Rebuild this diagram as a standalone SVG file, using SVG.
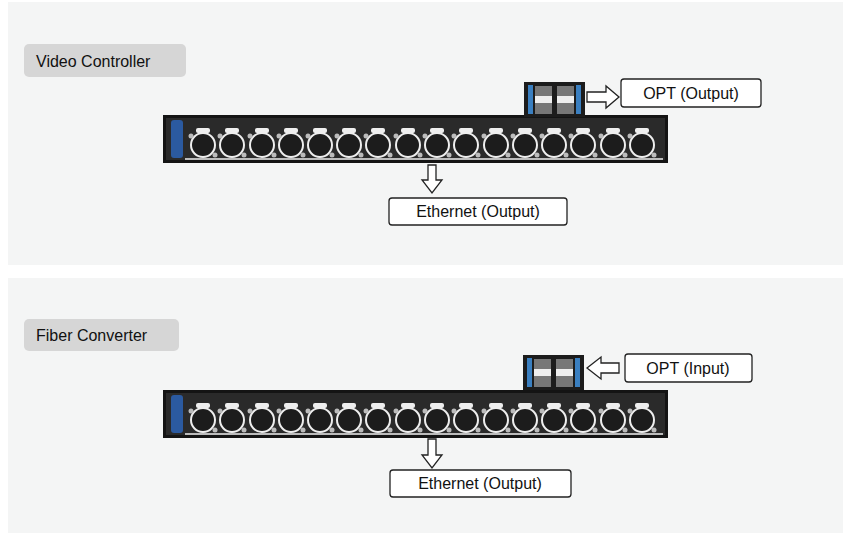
<svg xmlns="http://www.w3.org/2000/svg" xmlns:xlink="http://www.w3.org/1999/xlink" width="851" height="540" viewBox="0 0 851 540">
<style>
text{font-family:"Liberation Sans",Arial,sans-serif;fill:#111}
.panel{fill:#f4f5f5}
.tag{fill:#d6d6d6}
.lbl{fill:#fff;stroke:#222;stroke-width:1.3}
.arr{fill:#fff;stroke:#222;stroke-width:1.3}
.port{fill:#1c1c1c;stroke:#eee;stroke-width:2}
</style>
<defs>
<g id="port">
<rect x="-7" y="-17" width="14" height="5" rx="2" fill="#eee"/>
<circle r="12" class="port"/>
<circle cx="-12" cy="-9" r="2.5" fill="#bbb"/>
<circle cx="12" cy="10" r="2.5" fill="#bbb"/>
</g>
<g id="dev">
<rect x="0" y="0" width="505" height="48" fill="#141414"/>
<rect x="3" y="3" width="499" height="42" fill="#2a2a2a"/>
<rect x="8" y="5" width="12" height="38" rx="3" fill="#2b5aa0"/>
<line x1="22" y1="44" x2="500" y2="44" stroke="#eee" stroke-width="1.5"/>
<use xlink:href="#port" x="40" y="30"/><use xlink:href="#port" x="69" y="30"/><use xlink:href="#port" x="99" y="30"/><use xlink:href="#port" x="128" y="30"/>
<use xlink:href="#port" x="157" y="30"/><use xlink:href="#port" x="186" y="30"/><use xlink:href="#port" x="215" y="30"/><use xlink:href="#port" x="245" y="30"/>
<use xlink:href="#port" x="274" y="30"/><use xlink:href="#port" x="303" y="30"/><use xlink:href="#port" x="333" y="30"/><use xlink:href="#port" x="362" y="30"/>
<use xlink:href="#port" x="391" y="30"/><use xlink:href="#port" x="420" y="30"/><use xlink:href="#port" x="450" y="30"/><use xlink:href="#port" x="479" y="30"/>
</g>
<g id="opt">
<rect x="0" y="0" width="61" height="35" fill="#1c1c1c"/>
<rect x="4" y="3" width="5" height="29" fill="#3a7fc0"/>
<rect x="52" y="3" width="5" height="29" fill="#3a7fc0"/>
<rect x="11" y="4" width="17" height="28" fill="#777"/>
<rect x="33" y="4" width="17" height="28" fill="#777"/>
<rect x="11" y="14" width="17" height="7" fill="#eee"/>
<rect x="33" y="14" width="17" height="7" fill="#eee"/>
</g>
</defs>
<rect class="panel" x="8" y="2" width="835" height="263"/>
<rect class="panel" x="8" y="278" width="835" height="255"/>
<g id="top">
<rect class="tag" x="24" y="44" width="162" height="33" rx="5"/>
<text x="36" y="67" font-size="16">Video Controller</text>
<use xlink:href="#dev" x="163" y="115"/>
<use xlink:href="#opt" x="524" y="82"/>
</g>
<g id="topopt"><rect class="lbl" x="621" y="79" width="140" height="28" rx="3"/><text x="691" y="99" font-size="16" text-anchor="middle">OPT (Output)</text></g>
<g id="topeth"><rect class="lbl" x="389" y="198" width="178" height="27" rx="3"/><text x="478" y="217" font-size="16" text-anchor="middle">Ethernet (Output)</text></g>
<g id="bottom">
<rect class="tag" x="24" y="319" width="155" height="32" rx="5"/>
<text x="36" y="341" font-size="16">Fiber Converter</text>
<use xlink:href="#dev" x="163" y="390"/>
<use xlink:href="#opt" x="523" y="355"/>
</g>
<g id="botopt"><rect class="lbl" x="625" y="354" width="127" height="28" rx="3"/><text x="688" y="374" font-size="16" text-anchor="middle">OPT (Input)</text></g>
<g id="boteth"><rect class="lbl" x="390" y="470" width="181" height="27" rx="3"/><text x="480" y="489" font-size="16" text-anchor="middle">Ethernet (Output)</text></g>
<g id="connectors">
<polygon class="arr" points="587,92 606,92 606,86 619,97 606,108 606,102 587,102"/>
<polygon class="arr" points="619,363 601,363 601,357 587,368 601,379 601,373 619,373"/>
<polygon class="arr" points="428,165 436,165 436,180 442,180 432,193 422,180 428,180"/>
<polygon class="arr" points="428,439 436,439 436,455 442,455 432,468 422,455 428,455"/>
</g>
</svg>
